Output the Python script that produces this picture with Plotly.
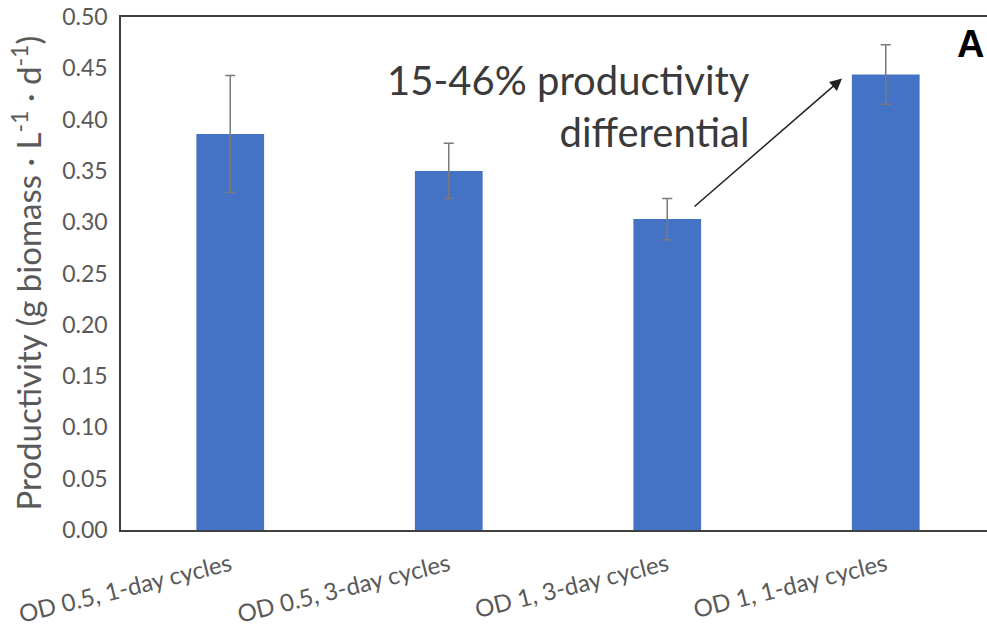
import plotly.graph_objects as go

categories = ["OD 0.5, 1-day cycles", "OD 0.5, 3-day cycles", "OD 1, 3-day cycles", "OD 1, 1-day cycles"]
productivity = [0.386, 0.350, 0.303, 0.444]
errors = [0.057, 0.027, 0.020, 0.029]
y_ticks = [0.00, 0.05, 0.10, 0.15, 0.20, 0.25, 0.30, 0.35, 0.40, 0.45, 0.50]

W, H = 987, 629
L, T = 121, 17
B = H - 530
cat_px = 218.5
plot_w = W - L
plot_h = H - T - B
x_max = -0.5 + plot_w / cat_px

fig = go.Figure()
fig.add_trace(go.Bar(
    x=list(range(len(categories))), y=productivity,
    width=0.31,
    marker=dict(color="#4472C4", line=dict(width=0)),
    error_y=dict(type="data", array=errors, visible=True, color="#7a7a7a", thickness=1.5, width=5),
))

font_family = "Lato, 'Open Sans', sans-serif"
fig.update_layout(
    width=W, height=H,
    margin=dict(l=L, r=0, t=T, b=B, autoexpand=False),
    paper_bgcolor="white", plot_bgcolor="white",
    showlegend=False,
    font=dict(family=font_family, color="#595959"),
    xaxis=dict(
        range=[-0.5, x_max], automargin=False,
        tickmode="array", tickvals=list(range(len(categories))), ticktext=categories,
        tickangle=-14, tickfont=dict(size=24, color="#595959"),
        showgrid=False, zeroline=False,
        showline=True, linecolor="#404040", linewidth=1.5, mirror=True,
        ticks="", ticklabelstandoff=10, ticklabeloverflow="allow",
    ),
    yaxis=dict(
        range=[0, 0.5], automargin=False,
        tickmode="array", tickvals=y_ticks, ticktext=[f"{v:.2f}" for v in y_ticks],
        tickfont=dict(size=23, color="#595959"),
        showgrid=False, zeroline=False,
        showline=True, linecolor="#404040", linewidth=1.5,
        ticks="", ticklabelstandoff=7, ticklabeloverflow="allow",
    ),
    annotations=[
        dict(
            text="Productivity (g biomass · L<sup>-1</sup> · d<sup>-1</sup>)",
            xref="paper", yref="paper", x=(26 - L) / plot_w, y=0.5,
            xanchor="center", yanchor="middle", textangle=-90, showarrow=False,
            font=dict(size=33, color="#595959", family=font_family),
        ),
        dict(
            text="15-46% productivity<br>differential",
            xref="x", yref="y", x=2.39, y=0.413, xanchor="right", yanchor="middle",
            align="right", showarrow=False,
            font=dict(size=40, color="#3a3a3a", family=font_family),
        ),
        dict(
            text="", xref="x", yref="y", x=2.80, y=0.440,
            axref="x", ayref="y", ax=2.118, ay=0.314,
            showarrow=True, arrowhead=2, arrowsize=1.6, arrowwidth=1.5, arrowcolor="#222222",
        ),
        dict(
            text="<b>A</b>", xref="paper", yref="paper",
            x=(970 - L) / plot_w, y=(530 - 44) / plot_h,
            xanchor="center", yanchor="middle", showarrow=False,
            font=dict(size=38, color="black", family="Liberation Sans, Arial, sans-serif"),
        ),
    ],
)

fig.write_html(
    "out.html",
    config={"displayModeBar": False},
    post_script="document.body.style.margin='0';document.body.style.overflow='hidden';",
)
